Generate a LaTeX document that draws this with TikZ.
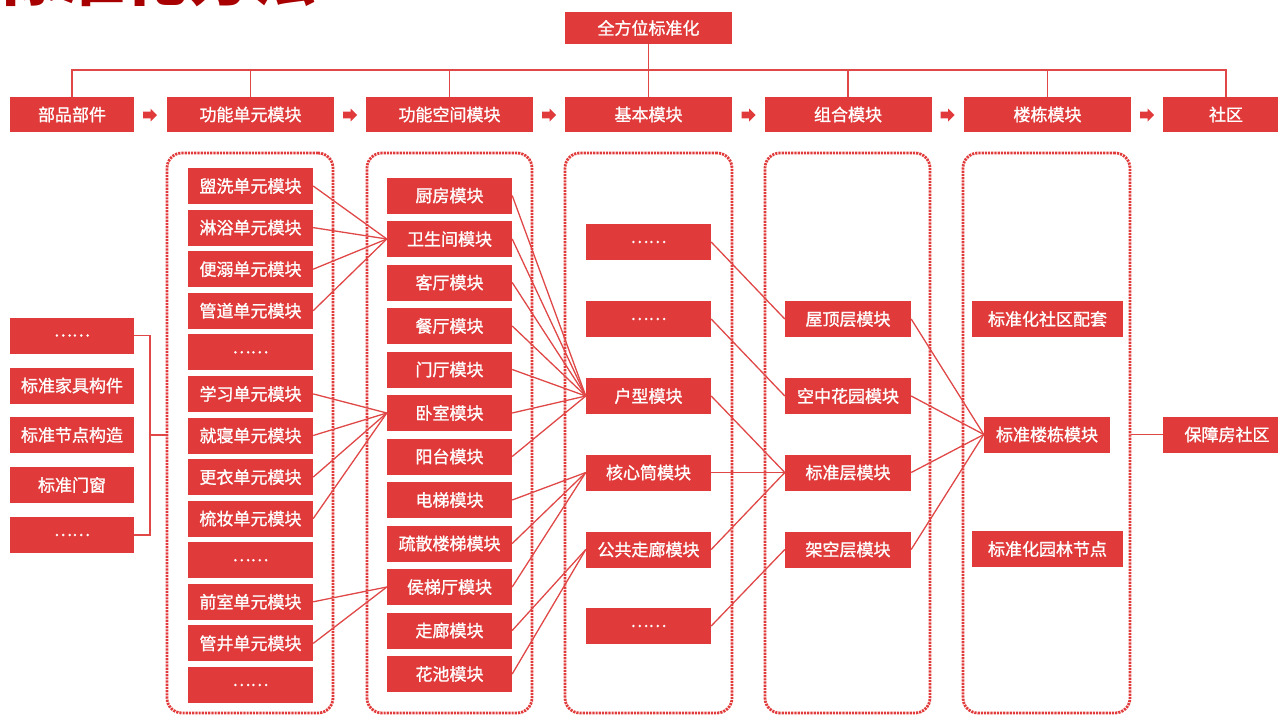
\documentclass[tikz,border=0pt]{standalone}
\usepackage{fontspec}
\newfontfamily\cjk[FakeBold=1.2]{Noto Sans CJK SC}
\newfontfamily\cjktitle{Noto Sans CJK SC}
\definecolor{boxred}{HTML}{E03A3A}
\definecolor{linered}{HTML}{E04848}
\definecolor{titlered}{HTML}{A80000}
\tikzset{
  blk/.style={fill=boxred, text=white, inner sep=0pt, font=\cjk\fontsize{17}{17}\selectfont, minimum height=36pt, minimum width=125pt},
  link/.style={draw=linered, line width=1.3pt},
  frame/.style={draw=boxred, line width=2.8pt, dash pattern=on 2.2pt off 1pt, rounded corners=15pt, minimum height=560pt, inner sep=0pt},
  blockarrow/.pic={\fill[boxred] (-7,-3.3) -- (0.5,-3.3) -- (0.5,-6.5) -- (7,0) -- (0.5,6.5) -- (0.5,3.3) -- (-7,3.3) -- cycle;}
}
\begin{document}
\begin{tikzpicture}[x=1pt,y=-1pt]
\useasboundingbox (0,0) rectangle (1278,715);
% title (cut at top)
\node[anchor=base west, text=titlered, font=\cjktitle\bfseries\fontsize{64}{64}\selectfont, inner sep=0pt] (title) at (-4,0) {标准化方法};
% frames
\node[frame, minimum width=166pt] (f2) at (250,433) {};
\node[frame, minimum width=165pt] (f3) at (449.5,433) {};
\node[frame, minimum width=167pt] (f4) at (648.5,433) {};
\node[frame, minimum width=165pt] (f5) at (847.5,433) {};
\node[frame, minimum width=167pt] (f6) at (1046.5,433) {};
% top
\node[blk, minimum width=167pt, minimum height=32pt] (top) at (648.5,28) {全方位标准化};
\node[blk, minimum width=124pt, minimum height=35pt] (t1) at (72,114.5) {部品部件};
\node[blk, minimum width=167pt, minimum height=35pt] (t2) at (250.5,114.5) {功能单元模块};
\node[blk, minimum width=167pt, minimum height=35pt] (t3) at (449.5,114.5) {功能空间模块};
\node[blk, minimum width=167pt, minimum height=35pt] (t4) at (648.5,114.5) {基本模块};
\node[blk, minimum width=167pt, minimum height=35pt] (t5) at (848,114.5) {组合模块};
\node[blk, minimum width=167pt, minimum height=35pt] (t6) at (1047.5,114.5) {楼栋模块};
\node[blk, minimum width=126pt, minimum height=35pt] (t7) at (1226,114.5) {社区};
\pic at (150,115) {blockarrow};
\pic at (350,115) {blockarrow};
\pic at (549,115) {blockarrow};
\pic at (748.5,115) {blockarrow};
\pic at (947.5,115) {blockarrow};
\pic at (1147,115) {blockarrow};
\coordinate (hl) at (0,70);
\draw[link] (t1.north) -- (t1.north |- hl) -- (t7.north |- hl) -- (t7.north);
\foreach \n in {t2,t3,t5,t6} \draw[link] (\n.north) -- (\n.north |- hl);
\draw[link] (top.south) -- (t4.north);
% left column
\node[blk, minimum width=124pt] (l1) at (72,335.5) {……};
\node[blk, minimum width=124pt] (l2) at (72,385.5) {标准家具构件};
\node[blk, minimum width=124pt] (l3) at (72,435) {标准节点构造};
\node[blk, minimum width=124pt] (l4) at (72,485) {标准门窗};
\node[blk, minimum width=124pt] (l5) at (72,535) {……};
\coordinate (bk) at (150,435);
\draw[link] (l1.east) -| (bk) |- (l5.east);
\draw[link] (bk) -- (f2.west |- bk);
% column 2
\node[blk] (b1) at (250.5,186) {盥洗单元模块};
\node[blk] (b2) at (250.5,227.6) {淋浴单元模块};
\node[blk] (b3) at (250.5,269.2) {便溺单元模块};
\node[blk] (b4) at (250.5,310.7) {管道单元模块};
\node[blk] (b5) at (250.5,352.3) {……};
\node[blk] (b6) at (250.5,393.9) {学习单元模块};
\node[blk] (b7) at (250.5,435.5) {就寝单元模块};
\node[blk] (b8) at (250.5,477.1) {更衣单元模块};
\node[blk] (b9) at (250.5,518.6) {梳妆单元模块};
\node[blk] (b10) at (250.5,560.2) {……};
\node[blk] (b11) at (250.5,601.8) {前室单元模块};
\node[blk] (b12) at (250.5,643.4) {管井单元模块};
\node[blk] (b13) at (250.5,685) {……};
% column 3
\node[blk] (c1) at (449.5,195.5) {厨房模块};
\node[blk] (c2) at (449.5,239) {卫生间模块};
\node[blk] (c3) at (449.5,282.5) {客厅模块};
\node[blk] (c4) at (449.5,326) {餐厅模块};
\node[blk] (c5) at (449.5,369.5) {门厅模块};
\node[blk] (c6) at (449.5,413) {卧室模块};
\node[blk] (c7) at (449.5,456.5) {阳台模块};
\node[blk] (c8) at (449.5,500) {电梯模块};
\node[blk] (c9) at (449.5,543.5) {疏散楼梯模块};
\node[blk] (c10) at (449.5,587) {侯梯厅模块};
\node[blk] (c11) at (449.5,630.5) {走廊模块};
\node[blk] (c12) at (449.5,674) {花池模块};
% column 4
\node[blk] (d1) at (648.5,242) {……};
\node[blk] (d2) at (648.5,319) {……};
\node[blk] (d3) at (648.5,396) {户型模块};
\node[blk] (d4) at (648.5,472.5) {核心筒模块};
\node[blk] (d5) at (648.5,549.5) {公共走廊模块};
\node[blk] (d6) at (648.5,626) {……};
% column 5
\node[blk, minimum width=126pt] (e1) at (848,319) {屋顶层模块};
\node[blk, minimum width=126pt] (e2) at (848,396) {空中花园模块};
\node[blk, minimum width=126pt] (e3) at (848,472.5) {标准层模块};
\node[blk, minimum width=126pt] (e4) at (848,549.5) {架空层模块};
% column 6
\node[blk, minimum width=151pt] (g1) at (1047.5,319) {标准化社区配套};
\node[blk, minimum width=126pt] (g2) at (1047,434.5) {标准楼栋模块};
\node[blk, minimum width=151pt] (g3) at (1047.5,549) {标准化园林节点};
\node[blk, minimum width=128pt] (h) at (1227,434.5) {保障房社区};
% connectors
\foreach \s in {b1,b2,b3,b4} \draw[link] (\s.east) -- (c2.west);
\foreach \s in {b6,b7,b8,b9} \draw[link] (\s.east) -- (c6.west);
\foreach \s in {b11,b12} \draw[link] (\s.east) -- (c10.west);
\foreach \s in {c1,c2,c3,c4,c5,c6,c7} \draw[link] (\s.east) -- (d3.west);
\foreach \s in {c8,c9,c10} \draw[link] (\s.east) -- (d4.west);
\foreach \s in {c11,c12} \draw[link] (\s.east) -- (d5.west);
\draw[link] (d1.east) -- (e1.west);
\draw[link] (d2.east) -- (e2.west);
\foreach \s in {d3,d4,d5} \draw[link] (\s.east) -- (e3.west);
\draw[link] (d6.east) -- (e4.west);
\foreach \s in {e1,e2,e3,e4} \draw[link] (\s.east) -- (g2.west);
\draw[link] (f6.east |- h.west) -- (h.west);
\end{tikzpicture}
\end{document}
